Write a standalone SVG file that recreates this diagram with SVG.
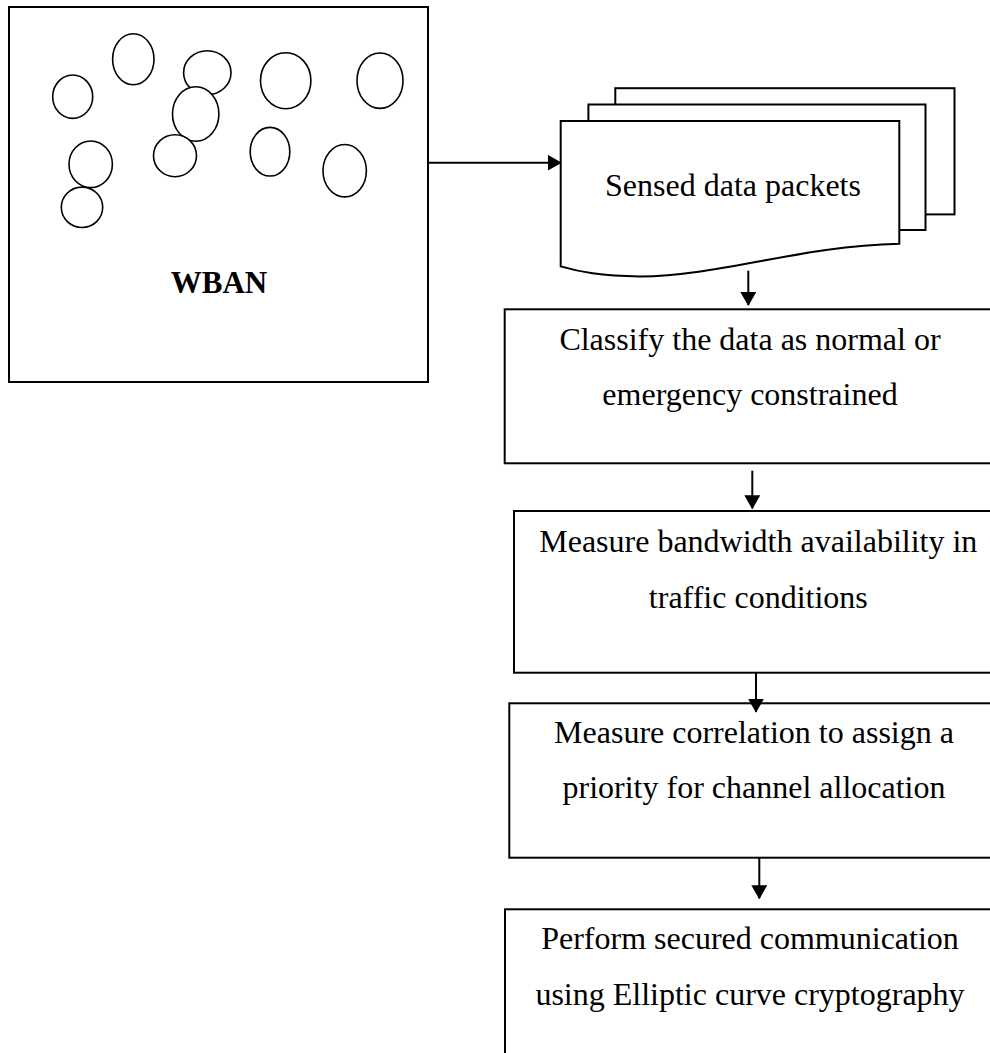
<svg xmlns="http://www.w3.org/2000/svg" width="990" height="1053" viewBox="0 0 990 1053">
<style>
.box{fill:#fff;stroke:#000;stroke-width:2}
.node{fill:#fff;stroke:#000;stroke-width:1.6}
.t{font-family:"Liberation Serif","Times New Roman",serif;font-size:32px;fill:#000;text-anchor:middle}
.b{font-weight:bold;font-size:31px}
.c{stroke:#000;stroke-width:2;fill:none}
</style>
<defs>
<marker id="ah" markerWidth="14" markerHeight="16" refX="13" refY="8" orient="auto" markerUnits="userSpaceOnUse">
<path d="M0,0 L14,8 L0,16 Z" fill="#000"/>
</marker>
</defs>
<rect width="990" height="1053" fill="#fff"/>
<g id="wban">
<rect class="box" x="9" y="7" width="419" height="375"/>
<ellipse class="node" cx="72.7" cy="96.7" rx="20" ry="21.7"/>
<ellipse class="node" cx="133.3" cy="59.3" rx="20.7" ry="25.5"/>
<ellipse class="node" cx="207.3" cy="72.7" rx="23.7" ry="22"/>
<ellipse class="node" cx="195.7" cy="114" rx="23.2" ry="27.2"/>
<ellipse class="node" cx="285.7" cy="80.7" rx="25.2" ry="28"/>
<ellipse class="node" cx="380" cy="80.7" rx="23" ry="27.7"/>
<ellipse class="node" cx="90.7" cy="164.3" rx="21.7" ry="23.3"/>
<ellipse class="node" cx="175" cy="155.7" rx="21.5" ry="21"/>
<ellipse class="node" cx="270" cy="151.7" rx="19.8" ry="24.3"/>
<ellipse class="node" cx="344.7" cy="170.7" rx="21.7" ry="26.2"/>
<ellipse class="node" cx="82" cy="207.3" rx="20.7" ry="20.2"/>
<text class="t b" x="219" y="293">WBAN</text>
</g>
<g id="packets">
<rect class="box" x="615.3" y="88.2" width="339.2" height="126.2"/>
<rect class="box" x="588.4" y="104.5" width="337.1" height="125.5"/>
<path class="box" d="M560.7,120.9 H899.3 V243.8 C800,246 720,276 640,276.5 C600,276 580,272 560.7,266.4 Z"/>
<text class="t" x="733" y="195.5">Sensed data packets</text>
</g>
<g id="classify">
<rect class="box" x="504.7" y="309.3" width="500" height="154"/>
<text class="t" x="750" y="350">Classify the data as normal or</text>
<text class="t" x="750" y="405">emergency constrained</text>
</g>
<g id="bandwidth">
<rect class="box" x="514" y="511" width="500" height="161.7"/>
<text class="t" x="758.3" y="551.7">Measure bandwidth availability in</text>
<text class="t" x="758.3" y="608.3">traffic conditions</text>
</g>
<g id="correlation">
<rect class="box" x="509.3" y="703.3" width="500" height="154.4"/>
<text class="t" x="754" y="742.7">Measure correlation to assign a</text>
<text class="t" x="754" y="798.3">priority for channel allocation</text>
</g>
<g id="secure">
<rect class="box" x="505" y="909.3" width="500" height="200"/>
<text class="t" x="750" y="949.3">Perform secured communication</text>
<text class="t" x="750" y="1005">using Elliptic curve cryptography</text>
</g>
<g id="connectors">
<line class="c" x1="428" y1="162.7" x2="560.7" y2="162.7" marker-end="url(#ah)"/>
<line class="c" x1="748.3" y1="270.7" x2="748.3" y2="305" marker-end="url(#ah)"/>
<line class="c" x1="752.3" y1="470.7" x2="752.3" y2="508.3" marker-end="url(#ah)"/>
<line class="c" x1="756" y1="672.7" x2="756" y2="711.7" marker-end="url(#ah)"/>
<line class="c" x1="759.3" y1="857.7" x2="759.3" y2="898.3" marker-end="url(#ah)"/>
</g>
</svg>
